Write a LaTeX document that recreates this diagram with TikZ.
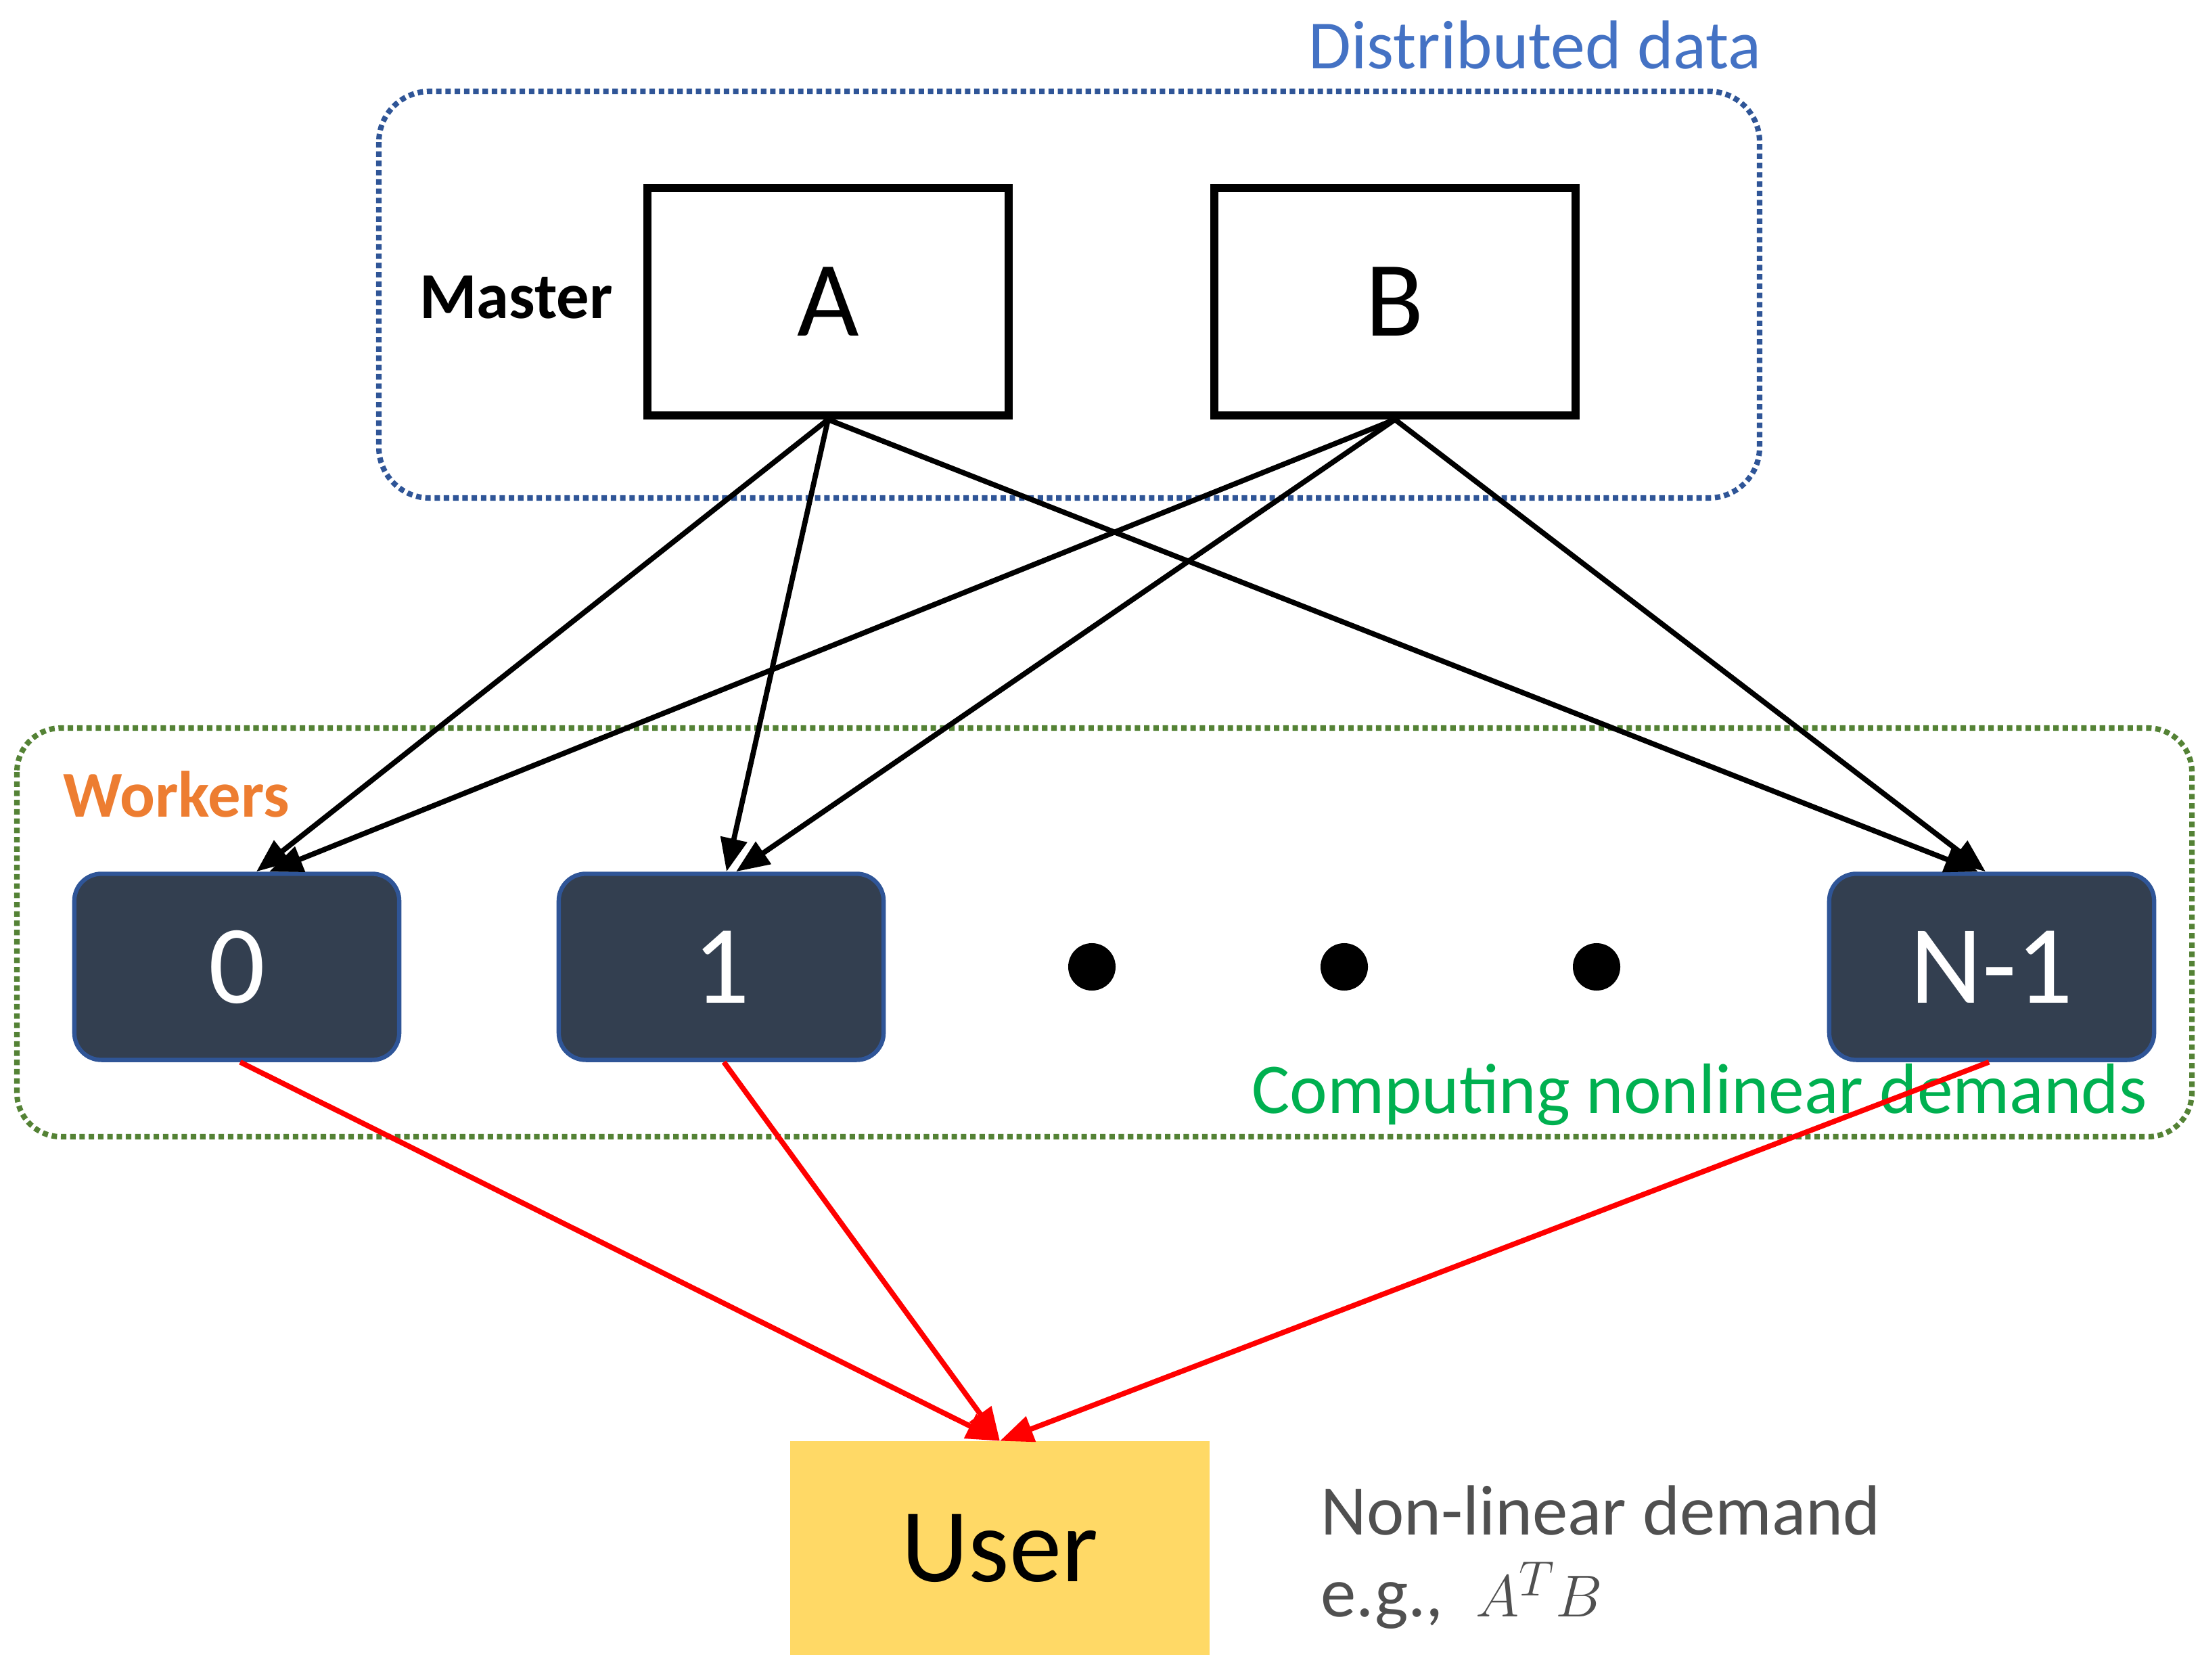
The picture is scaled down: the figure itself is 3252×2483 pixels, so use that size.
\documentclass[tikz,border=0pt]{standalone}
\usepackage{fontspec}
\setmainfont{Carlito}
\usetikzlibrary{arrows.meta,calc}
\definecolor{ddblue}{HTML}{4472C4}
\definecolor{boxblue}{HTML}{2F5597}
\definecolor{grnbox}{HTML}{548235}
\definecolor{wkorange}{HTML}{ED7D31}
\definecolor{cmpgreen}{HTML}{00B050}
\definecolor{wfill}{HTML}{333F50}
\definecolor{useryellow}{HTML}{FFD966}
\definecolor{notegrey}{HTML}{505050}
\begin{document}
\begin{tikzpicture}[x=0.01cm,y=-0.01cm,
  databox/.style={draw=black,line width=3.4pt,fill=white,minimum width=5.33cm,minimum height=3.36cm,font=\fontsize{45}{50}\selectfont},
  worker/.style={draw=boxblue,line width=1.8pt,fill=wfill,rounded corners=0.4cm,minimum width=4.8cm,minimum height=2.75cm,text=white,font=\fontsize{47}{52}\selectfont},
  dotbox/.style={line width=2.3pt,dash pattern=on 2.3pt off 1.6pt},
  blk/.style={draw=black,line width=2.2pt,-{Triangle[length=14pt,width=11pt]}},
  redarr/.style={draw=red,line width=2.2pt,-{Triangle[length=14pt,width=11pt]}},
  lbl/.style={font=\fontsize{27}{32}\selectfont},
  ell/.style={circle,fill=black,inner sep=0pt,minimum size=0.7cm}
]
\useasboundingbox (0,0) rectangle (3252,2483);
% containers
\draw[dotbox,draw=boxblue,rounded corners=0.75cm] (560,135) rectangle (2601,736);
\draw[dotbox,draw=grnbox,rounded corners=0.65cm] (25,1076) rectangle (3240,1680);
% labels
\node[lbl,text=ddblue,font=\fontsize{29}{34}\selectfont] (dd) at (2269,66) {Distributed data};
\node[lbl,font=\fontsize{27.5}{32}\selectfont\bfseries] (master) at (763,440) {Master};
\node[lbl,font=\fontsize{27.5}{32}\selectfont\bfseries,text=wkorange] (wk) at (261,1174) {Workers};
% data boxes
\node[databox] (A) at (1224,446) {A};
\node[databox] (B) at (2062,446) {B};
% workers
\node[worker] (w0) at (350,1429) {0};
\node[worker] (w1) at (1066,1429) {1};
\node[worker] (wn) at (2944,1429) {N-1};
\node[ell] (d1) at (1614,1429) {};
\node[ell] (d2) at (1987,1429) {};
\node[ell] (d3) at (2360,1429) {};
\node[lbl,text=cmpgreen,font=\fontsize{30}{35}\selectfont] (cmp) at (2512,1618) {Computing nonlinear demands};
% user
\node[fill=useryellow,minimum width=6.2cm,minimum height=3.15cm,inner sep=0pt,font=\fontsize{44}{50}\selectfont] (user) at (1478,2288) {User};
\node[lbl,text=notegrey,anchor=west,font=\fontsize{29.8}{35}\selectfont] (note1) at (1940,2232) {Non-linear demand};
\node[lbl,text=notegrey,anchor=west,font=\fontsize{29.8}{35}\selectfont] (note2) at (1940,2358) {e.g.,\ \ $A^{T}B$};
% black arrows
\draw[blk] (A.south) -- ($(w0.north)+(29,0)$);
\draw[blk] (B.south) -- ($(w0.north)+(48,0)$);
\draw[blk] (A.south) -- ($(w1.north)+(8,0)$);
\draw[blk] (B.south) -- ($(w1.north)+(22,0)$);
\draw[blk] (A.south) -- ($(wn.north)+(-20,0)$);
\draw[blk] (B.south) -- ($(wn.north)+(-9,0)$);
% red arrows
\draw[redarr] ($(w0.south)+(5,0)$) -- (user.north);
\draw[redarr] ($(w1.south)+(4,0)$) -- (user.north);
\draw[redarr] ($(wn.south)+(-4,0)$) -- (user.north);
\end{tikzpicture}
\end{document}
